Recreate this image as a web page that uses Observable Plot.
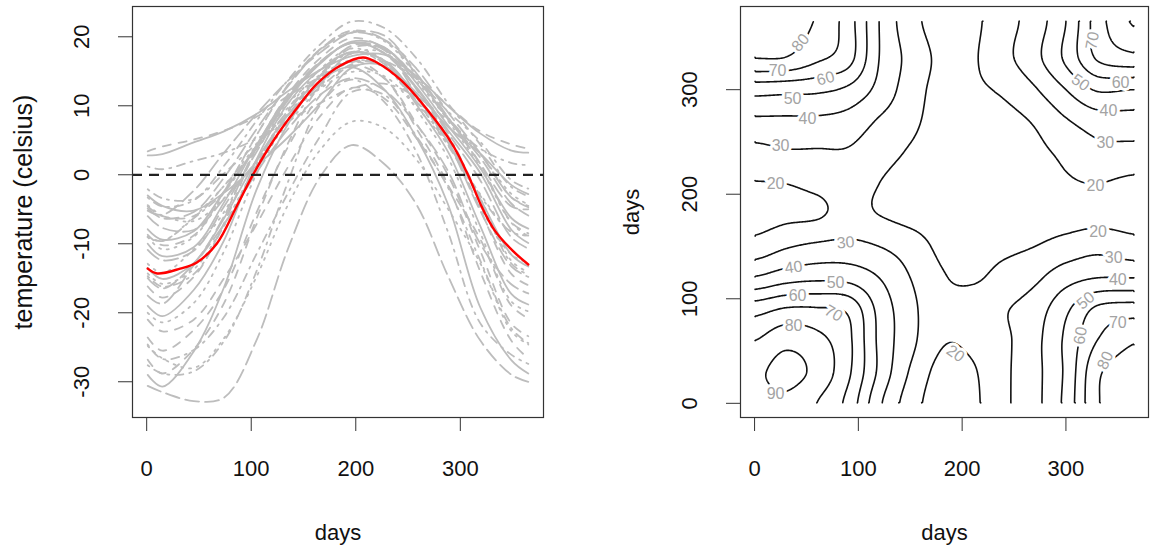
<!DOCTYPE html>
<html><head><meta charset="utf-8">
<script src="https://cdn.jsdelivr.net/npm/d3@7"></script>
<script src="https://cdn.jsdelivr.net/npm/@observablehq/plot@0.6"></script>
<style>
body{margin:0;background:#fff;}
#wrap{display:flex;width:1152px;height:551px;overflow:hidden;}
#wrap svg{display:block;flex:none;}
</style></head><body><div id="wrap"></div>
<script>
// ---------- left panel data ----------
const tempDays = [1, 15, 45, 74, 105, 135, 166, 196, 227, 258, 288, 319, 349, 365];
const stationNames = ["St. Johns","Halifax","Sydney","Yarmouth","Charlottvl","Fredericton","Scheffervll","Arvida","Bagottville","Quebec","Sherbrooke","Montreal","Ottawa","Toronto","London","Thunder Bay","Winnipeg","The Pas","Churchill","Regina","Pr. Albert","Uranium Cty","Edmonton","Calgary","Kamloops","Vancouver","Victoria","Pr. George","Pr. Rupert","Whitehorse","Dawson","Yellowknife","Iqaluit","Inuvik","Resolute"];
const stationTemps = [
 [-3.0,-4.5,-5.2,-2.6,1.3,5.4,10.3,15.5,15.8,11.9,7.0,3.1,-1.5,-2.8],
 [-4.6,-6.0,-6.0,-1.6,3.8,9.2,14.3,18.4,18.3,14.0,8.3,3.1,-3.3,-4.5],
 [-4.4,-5.9,-6.7,-3.4,1.9,7.4,12.8,17.6,17.7,13.5,8.1,3.0,-2.8,-4.3],
 [-2.1,-3.4,-3.5,0.2,4.5,8.7,12.7,16.0,16.4,13.8,9.2,4.8,-0.8,-2.0],
 [-6.0,-7.7,-8.0,-3.5,2.0,8.6,14.4,18.7,18.4,13.9,8.1,2.5,-4.2,-5.9],
 [-7.9,-9.4,-8.2,-2.4,4.1,10.9,16.1,19.3,18.5,13.3,7.2,1.0,-6.3,-7.8],
 [-21.0,-22.7,-21.0,-15.0,-7.2,1.1,8.5,12.6,11.1,5.3,-1.5,-9.3,-19.0,-20.8],
 [-14.3,-15.8,-13.7,-7.2,1.5,9.4,15.3,18.3,16.6,11.2,4.7,-3.4,-12.5,-14.1],
 [-14.7,-16.2,-14.4,-7.4,1.2,9.0,14.6,17.8,16.1,10.7,4.3,-3.6,-12.9,-14.5],
 [-10.9,-12.4,-11.0,-4.6,3.3,10.8,16.3,19.1,17.6,12.5,6.1,-0.8,-9.1,-10.7],
 [-10.0,-11.8,-10.5,-4.0,4.3,11.2,16.3,19.1,17.7,12.7,6.5,0.3,-8.0,-9.9],
 [-8.7,-10.2,-8.8,-2.4,5.7,13.0,18.2,20.9,19.6,14.6,8.3,1.6,-6.9,-8.5],
 [-9.0,-10.8,-9.0,-2.5,5.7,13.0,18.2,20.8,19.4,14.4,7.9,1.1,-7.0,-8.9],
 [-3.3,-4.6,-3.7,1.3,7.8,13.7,18.9,22.2,21.3,16.9,10.4,4.4,-1.8,-3.1],
 [-4.9,-6.3,-5.4,-0.4,6.6,12.8,18.1,20.6,19.6,15.4,9.1,3.1,-3.3,-4.7],
 [-13.5,-15.1,-12.8,-6.3,2.1,8.6,13.2,17.6,16.6,11.3,4.8,-3.5,-11.6,-13.3],
 [-16.2,-17.8,-14.8,-7.0,3.9,11.6,16.9,19.8,18.3,12.4,5.3,-5.0,-14.4,-16.0],
 [-20.0,-21.4,-18.6,-11.1,0.1,8.0,14.3,17.7,16.2,9.5,2.5,-8.4,-18.4,-19.8],
 [-24.6,-26.7,-25.4,-20.6,-11.5,-2.7,5.6,12.0,11.6,5.6,-1.8,-12.4,-22.3,-24.4],
 [-15.0,-16.5,-12.9,-6.0,4.1,11.4,16.4,19.1,18.1,11.6,4.8,-5.2,-13.3,-14.8],
 [-19.0,-20.5,-16.7,-9.5,2.2,10.3,15.2,17.8,16.5,10.2,3.4,-7.4,-17.3,-18.8],
 [-23.6,-25.5,-22.5,-16.5,-5.5,4.0,11.5,15.8,14.0,7.4,0.0,-11.0,-21.6,-23.4],
 [-12.9,-14.2,-10.8,-5.4,3.7,10.3,14.3,16.6,15.6,10.4,4.7,-4.7,-11.6,-12.7],
 [-9.0,-9.6,-6.3,-2.5,4.1,9.7,14.0,16.4,15.7,10.6,5.7,-3.0,-8.3,-8.8],
 [-5.2,-5.8,-2.3,3.2,8.8,13.6,17.7,20.6,20.2,14.7,8.4,1.6,-4.6,-5.0],
 [2.8,3.0,4.7,6.3,8.8,12.1,15.2,17.2,17.4,14.3,10.0,6.0,3.5,3.2],
 [3.4,4.1,5.1,6.4,8.4,11.4,14.2,16.3,16.4,14.1,10.1,6.3,4.4,3.8],
 [-9.0,-9.6,-6.1,-1.6,4.2,8.8,12.5,14.9,14.3,9.8,4.4,-2.8,-8.3,-8.8],
 [1.2,0.8,2.0,3.2,5.2,7.8,10.4,12.5,13.2,11.3,7.9,3.8,1.7,1.4],
 [-17.5,-18.7,-13.1,-7.2,0.3,6.6,11.6,14.0,12.3,7.3,0.6,-10.0,-15.9,-17.2],
 [-29.0,-30.7,-25.6,-16.3,-2.2,7.3,13.6,15.6,12.4,5.4,-4.2,-19.2,-26.9,-28.8],
 [-26.8,-28.8,-25.3,-18.6,-6.4,4.5,13.0,16.5,14.1,6.7,-1.4,-14.0,-24.1,-26.6],
 [-24.8,-26.6,-28.0,-23.7,-14.8,-4.4,3.6,7.7,6.8,2.2,-4.9,-12.8,-22.7,-24.6],
 [-27.6,-28.8,-28.5,-24.1,-14.0,-1.1,10.1,13.8,10.6,3.3,-8.2,-21.5,-26.1,-27.4],
 [-30.6,-31.5,-32.8,-32.3,-24.0,-10.8,-0.3,4.3,1.6,-4.3,-14.6,-24.0,-29.0,-30.0]
];
const meanDays  = [1, 10, 32, 48, 67, 86, 102, 121, 144, 163, 185, 207, 221, 244, 269, 292, 307, 321, 333, 350, 365];
const meanTemps = [-13.6, -14.3, -13.6, -12.7, -10.0, -4.6, 0.1, 4.9, 9.7, 13.2, 15.8, 17.0, 16.2, 13.6, 9.3, 4.5, 0.1, -4.8, -8.1, -11.0, -13.0];
const dayTicks = [0, 100, 200, 300];
const tempTicks = [-30, -20, -10, 0, 10, 20];

// ---------- right panel data (covariance surface read on a grid) ----------
const covGridDays = [0, 30, 60, 90, 120, 150, 180, 210, 240, 270, 300, 330, 365];
const covRows = [ // rows: y day (bottom to top), columns: x day
 [86, 88, 80, 67, 42, 25, 15, 18, 28, 37, 53, 79, 84],
 [88, 93, 87, 72, 48, 29, 17, 19, 28, 37, 52, 78, 84],
 [80, 87, 83, 72.5, 48, 33, 21, 22, 28, 37, 52, 70, 79],
 [66, 71, 71, 68, 47, 33, 23, 24, 29, 35, 48, 62, 65],
 [41, 46, 48, 47, 40, 30, 21, 19, 23, 28, 36, 40, 40],
 [24, 29, 32, 33, 30, 25, 18, 17, 18, 20, 24, 27, 24],
 [16, 18, 19, 23, 20, 17, 15, 14, 14, 15, 16, 17, 16.5],
 [19.5, 20, 22, 24, 20, 16, 14, 14, 15, 17, 19, 20, 18],
 [27, 29, 29, 29, 24, 19, 15, 15, 16, 18, 22, 27, 27],
 [38, 38, 38, 36, 29, 22.5, 16, 16, 17, 21, 29, 35, 36],
 [54, 53, 52, 48, 37, 25, 17, 18.5, 21.5, 29, 40, 51, 50],
 [80, 79.5, 72, 64, 40, 27, 18, 19, 27, 37, 52, 71, 77],
 [84, 84, 79, 65, 40, 24, 16, 18, 26, 35, 50, 75, 91]
];
const contourLevels = [20, 30, 40, 50, 60, 70, 80, 90];
const labelDayX  = [44.3, 22.2, 68.4, 36.6, 51, 25, 20.2, 87.7, 37.6, 78, 41.4, 76.1, 37.6, 20.2, 331, 346, 350, 319, 350, 314, 338, 193.6, 325.6, 314, 352.6, 341, 338, 328.5];
const labelDayY  = [345, 318.3, 310.7, 291.6, 272.4, 246.6, 210, 153.8, 130.1, 115.5, 103.1, 86, 74.4, 9.4, 164.3, 139.5, 118.4, 98.3, 77.3, 64.8, 41, 47.6, 347, 306.8, 306.8, 280, 249.4, 208.3];
const labelLevel = [80, 70, 60, 50, 40, 30, 20, 30, 40, 50, 60, 70, 80, 90, 20, 30, 40, 50, 70, 60, 80, 20, 70, 50, 60, 40, 30, 20];
const labelAngle = [-50, 0, -15, 0, 0, 0, 0, -5, -8, 0, 0, 30, 0, 0, 0, 0, 0, -40, 0, -80, -65, 35, -80, 35, 0, 0, 0, 0];

// ---------- styles ----------
const FONT = "'Liberation Sans', Arial, Helvetica, sans-serif";
const ltyDash = [null, "8,8", "2,6", "2,6,8,6", "14,6"];
const W = 576, H = 551;
const txt = {fill: "#111", fontFamily: FONT, textAnchor: "middle", lineAnchor: "middle"};

// ---------- left panel ----------
const stationRows = stationNames.flatMap((name, s) =>
  tempDays.map((d, k) => ({station: name, lty: s % 5, day: d, temp: stationTemps[s][k]})));
const meanRows = meanDays.map((d, k) => ({day: d, temp: meanTemps[k]}));

const leftMarks = [];
for (let g = 0; g < 5; g++) {
  leftMarks.push(Plot.line(stationRows.filter(r => r.lty === g), {
    x: "day", y: "temp", z: "station", stroke: "#bdbdbd", strokeWidth: 1.8,
    strokeDasharray: ltyDash[g] || undefined, curve: "catmull-rom"
  }));
}
leftMarks.push(
  Plot.line(meanRows, {x: "day", y: "temp", stroke: "#ff0000", strokeWidth: 2.4, curve: "catmull-rom"}),
  Plot.ruleY([0], {stroke: "#222", strokeWidth: 2.2, strokeDasharray: "10,7"}),
  Plot.frame({stroke: "#333", strokeWidth: 1.2}),
  Plot.axisX(dayTicks, {tickSize: 14, tickFormat: () => "", label: null, stroke: "#333"}),
  Plot.axisY(tempTicks, {tickSize: 14, tickFormat: () => "", label: null, stroke: "#333"}),
  Plot.text(dayTicks, {x: d => d, text: d => String(d), frameAnchor: "bottom", dy: 51, fontSize: 22, ...txt}),
  Plot.text(tempTicks, {y: d => d, text: d => String(d), frameAnchor: "left", dx: -51, rotate: -90, fontSize: 22, ...txt}),
  Plot.text(["days"], {text: d => d, frameAnchor: "bottom", dy: 115, fontSize: 22, ...txt}),
  Plot.text(["temperature (celsius)"], {text: d => d, frameAnchor: "left", dx: -109, rotate: -90, fontSize: 25, ...txt})
);

const left = Plot.plot({
  width: W, height: H,
  marginLeft: 132, marginRight: 33, marginTop: 6, marginBottom: 134,
  style: {fontFamily: FONT, background: "white"},
  x: {domain: [-13.56, 379.56]},
  y: {domain: [-35.18, 24.39]},
  marks: leftMarks
});

// ---------- right panel: contour lines ----------
function gridIndex(d) {
  const g = covGridDays;
  if (d <= g[0]) return 0;
  for (let k = 0; k < g.length - 1; k++) if (d <= g[k + 1]) return k + (d - g[k]) / (g[k + 1] - g[k]);
  return g.length - 1;
}
function catmull(p0, p1, p2, p3, t) {
  return 0.5 * (2 * p1 + (-p0 + p2) * t + (2 * p0 - 5 * p1 + 4 * p2 - p3) * t * t + (-p0 + 3 * p1 - 3 * p2 + p3) * t * t * t);
}
function covAt(xd, yd) {
  const n = covGridDays.length;
  const fx = gridIndex(xd), fy = gridIndex(yd);
  const ix = Math.min(Math.floor(fx), n - 2), iy = Math.min(Math.floor(fy), n - 2);
  const tx = fx - ix, ty = fy - iy;
  const cl = i => Math.max(0, Math.min(n - 1, i));
  const rv = r => catmull(covRows[r][cl(ix - 1)], covRows[r][ix], covRows[r][ix + 1], covRows[r][cl(ix + 2)], tx);
  return catmull(rv(cl(iy - 1)), rv(iy), rv(iy + 1), rv(cl(iy + 2)), ty);
}
const N = 365;
const vals = new Float64Array(N * N);
for (let j = 0; j < N; j++) for (let i = 0; i < N; i++) vals[j * N + i] = covAt(1 + i, 1 + j);
const contours = d3.contours().size([N, N]).thresholds(contourLevels)(vals);
const contourPts = [];
let pieceId = 0;
const edges = p => [p[0] <= 0, p[0] >= N, p[1] <= 0, p[1] >= N];
const sameEdge = (a, b) => { const ea = edges(a), eb = edges(b); return ea.some((v, i) => v && eb[i]); };
function flush(cur, level) {
  if (cur.length < 2) return;
  let len = 0;
  for (let k = 1; k < cur.length; k++) len += Math.hypot(cur[k][0] - cur[k - 1][0], cur[k][1] - cur[k - 1][1]);
  if (len < 4) return;
  const id = pieceId++;
  for (const p of cur) contourPts.push({x: p[0] + 0.5, y: p[1] + 0.5, id, level});
}
for (const c of contours) for (const poly of c.coordinates) for (const ring of poly) {
  let cur = [ring[0]];
  for (let k = 1; k < ring.length; k++) {
    if (sameEdge(ring[k - 1], ring[k])) { flush(cur, c.value); cur = [ring[k]]; }
    else cur.push(ring[k]);
  }
  flush(cur, c.value);
}
const labelRows = labelLevel.map((v, k) => ({x: labelDayX[k], y: labelDayY[k], text: String(v), angle: labelAngle[k]}));

const right = Plot.plot({
  width: W, height: H,
  marginLeft: 164, marginRight: 4, marginTop: 6, marginBottom: 134,
  style: {fontFamily: FONT, background: "white"},
  x: {domain: [-13.56, 379.56]},
  y: {domain: [-13.56, 379.56]},
  marks: [
    Plot.line(contourPts, {x: "x", y: "y", z: "id", stroke: "#111", strokeWidth: 1.6}),
    Plot.text(labelRows, {x: "x", y: "y", text: "text", rotate: "angle", fill: "#a3a3a3", stroke: "white", strokeWidth: 6, paintOrder: "stroke", fontSize: 16, fontFamily: FONT, textAnchor: "middle", lineAnchor: "middle"}),
    Plot.frame({stroke: "#333", strokeWidth: 1.2}),
    Plot.axisX(dayTicks, {tickSize: 14, tickFormat: () => "", label: null, stroke: "#333"}),
    Plot.axisY(dayTicks, {tickSize: 14, tickFormat: () => "", label: null, stroke: "#333"}),
    Plot.text(dayTicks, {x: d => d, text: d => String(d), frameAnchor: "bottom", dy: 51, fontSize: 22, ...txt}),
    Plot.text(dayTicks, {y: d => d, text: d => String(d), frameAnchor: "left", dx: -51, rotate: -90, fontSize: 22, ...txt}),
    Plot.text(["days"], {text: d => d, frameAnchor: "bottom", dy: 115, fontSize: 22, ...txt}),
    Plot.text(["days"], {text: d => d, frameAnchor: "left", dx: -109, rotate: -90, fontSize: 22, ...txt})
  ]
});

const wrap = document.getElementById("wrap");
wrap.appendChild(left);
wrap.appendChild(right);
</script>
</body></html>
